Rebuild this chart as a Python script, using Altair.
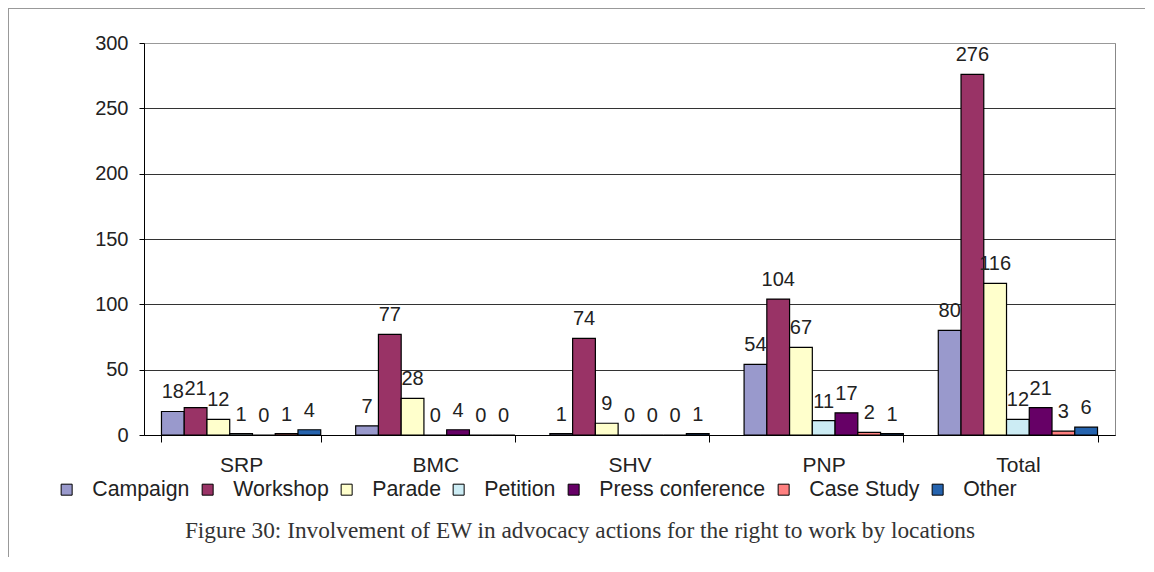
import altair as alt
import pandas as pd

locations = ["SRP", "BMC", "SHV", "PNP", "Total"]
series = ["Campaign", "Workshop", "Parade", "Petition", "Press conference", "Case Study", "Other"]
campaign = [18, 7, 1, 54, 80]
workshop = [21, 77, 74, 104, 276]
parade = [12, 28, 9, 67, 116]
petition = [1, 0, 0, 11, 12]
press_conference = [0, 4, 0, 17, 21]
case_study = [1, 0, 0, 2, 3]
other = [4, 0, 1, 1, 6]
colors = ["#9999CC", "#993366", "#FFFFCC", "#CCECF4", "#660066", "#FF8080", "#2563AE"]
y_ticks = [0, 50, 100, 150, 200, 250, 300]
caption = "Figure 30: Involvement of EW in advocacy actions for the right to work by locations"

rows = []
for s, vals in zip(series, [campaign, workshop, parade, petition, press_conference, case_study, other]):
    for loc, v in zip(locations, vals):
        rows.append({"location": loc, "series": s, "value": v})
df = pd.DataFrame(rows)

FONT = "Liberation Sans"

base = alt.Chart(df).encode(
    x=alt.X(
        "location:N",
        sort=locations,
        scale=alt.Scale(paddingInner=0.18, paddingOuter=0.09),
        axis=alt.Axis(
            title=None, labelAngle=0, tickBand="extent", tickSize=7,
            labelFontSize=21, labelPadding=12, labelFont=FONT, grid=False,
        ),
    ),
    xOffset=alt.XOffset("series:N", sort=series, scale=alt.Scale(paddingInner=0, paddingOuter=0)),
    y=alt.Y(
        "value:Q",
        scale=alt.Scale(domain=[0, 300], nice=False),
        axis=alt.Axis(
            title=None, values=y_ticks, tickSize=5, labelFontSize=20, labelPadding=11,
            labelFont=FONT, grid=True,
            gridColor={"condition": {"test": "datum.value === 300", "value": "#999999"}, "value": "#333333"},
        ),
    ),
)

bars = base.mark_bar(stroke="black", strokeWidth=1.2).encode(
    color=alt.Color(
        "series:N",
        sort=series,
        scale=alt.Scale(domain=series, range=colors),
        legend=alt.Legend(
            title=None, orient="none", legendX=-88, legendY=436, direction="horizontal",
            symbolType="square", symbolSize=121, symbolStrokeColor="black", symbolStrokeWidth=1,
            labelFontSize=21.3, labelFont=FONT, labelColor="#222", labelOffset=15, labelLimit=0,
            columnPadding=7, padding=0, symbolOpacity=1,
        ),
    )
)

labels = base.mark_text(
    baseline="alphabetic", dy=-13, fontSize=20, font=FONT, color="#222"
).encode(text="value:Q")

one = pd.DataFrame({"a": [0]})
frame_left = alt.Chart(one).mark_rule(color="#999", strokeWidth=1).encode(
    x=alt.value(-135.5), y=alt.value(-35), y2=alt.value(530)
)
frame_top = alt.Chart(one).mark_rule(color="#999", strokeWidth=1).encode(
    x=alt.value(-136), x2=alt.value(1020), y=alt.value(-34.5)
)
cap = alt.Chart(one).mark_text(
    font="Liberation Serif", fontSize=23.3, color="#333", align="center", baseline="middle"
).encode(x=alt.value(436), y=alt.value(488), text=alt.value(caption))

chart = alt.layer(bars, labels, frame_left, frame_top, cap).properties(
    width=971, height=392,
    autosize=alt.AutoSizeParams(type="none"),
    padding={"left": 136, "top": 35, "right": 30, "bottom": 122},
).configure_view(stroke="#888", strokeWidth=1).configure_axis(
    domainColor="black", tickColor="black", labelColor="#222"
)

chart.save("out.html", embed_options={"renderer": "svg", "actions": False})
